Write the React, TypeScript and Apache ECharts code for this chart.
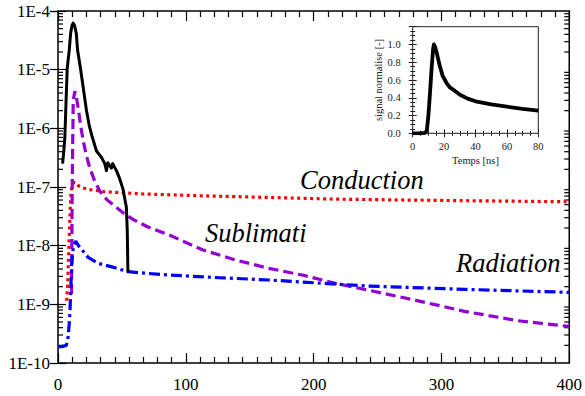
import React, { useEffect, useRef } from 'react';
import * as echarts from 'echarts';

// Main chart (log scale) — time [ns] vs value
const totalX = [3.6, 4.5, 5.4, 6.2, 7.2, 8.8, 9.9, 11, 11.9, 13, 14.3, 15.3, 17.6, 20, 22.3, 24.5, 26.5, 30.1, 34, 36.6, 37.9, 38.9, 41.8, 42.8, 45.7, 48.2, 50.8, 53.5, 54.2, 54.7];
const totalY = [2.5e-7, 4e-7, 7.2e-7, 2.5e-6, 1.05e-5, 2.16e-5, 4.2e-5, 5.7e-5, 6.2e-5, 5.6e-5, 4.2e-5, 2.16e-5, 1.05e-5, 4.5e-6, 2e-6, 1.1e-6, 7.5e-7, 4.1e-7, 3.2e-7, 2.5e-7, 1.9e-7, 2.6e-7, 2.1e-7, 2.5e-7, 1.9e-7, 1.4e-7, 9.3e-8, 4.5e-8, 1.8e-8, 3.5e-9];

const sublimX = [10.6, 11.1, 11.9, 13.2, 14.5, 15.8, 17.5, 19.7, 22, 24.9, 28.5, 32.7, 38.5, 45.7, 52, 58.6, 70, 87, 113, 139, 165, 191, 217, 243, 280, 318, 360, 400];
const sublimY = [1.5e-9, 1e-7, 2.95e-6, 4.3e-6, 3.3e-6, 2.2e-6, 1.2e-6, 6.2e-7, 3.6e-7, 2.1e-7, 1.3e-7, 8.5e-8, 6e-8, 4.5e-8, 3.5e-8, 2.8e-8, 2.1e-8, 1.52e-8, 8.5e-9, 5.7e-9, 4.1e-9, 3.16e-9, 2.28e-9, 1.74e-9, 1.17e-9, 7.6e-10, 5.25e-10, 4.2e-10];

const conductX = [6.8, 7.5, 8, 8.7, 9.3, 10, 11, 12, 13.2, 16, 20, 23.6, 36.6, 67.7, 110, 219, 300, 400];
const conductY = [1.15e-9, 2e-9, 4.3e-9, 1.2e-8, 3e-8, 7e-8, 1.05e-7, 1.17e-7, 1.2e-7, 1.05e-7, 9.6e-8, 9.1e-8, 8.3e-8, 7.6e-8, 7.1e-8, 6.2e-8, 5.9e-8, 5.6e-8];

const radiatX = [0, 3, 6.5, 7.5, 8, 8.7, 9.3, 10, 10.7, 11.9, 13.8, 16, 18.4, 23.6, 31.4, 43, 54.7, 63.8, 87, 125, 165, 219, 243, 318, 400];
const radiatY = [1.9e-10, 1.9e-10, 2.0e-10, 2.4e-10, 2.9e-10, 4.5e-10, 7e-10, 1.8e-9, 4.8e-9, 9.3e-9, 1.2e-8, 1.0e-8, 8.7e-9, 6.3e-9, 5e-9, 4.3e-9, 3.6e-9, 3.45e-9, 3.16e-9, 2.85e-9, 2.6e-9, 2.2e-9, 2.05e-9, 1.8e-9, 1.6e-9];

// Inset: normalised signal
const insetX = [0, 4, 8, 9, 10, 11, 12, 13, 13.5, 14.3, 15.3, 16.3, 17.3, 19, 21.6, 23.5, 25.9, 30.1, 35, 40, 50, 60, 70, 80];
const insetY = [0, 0, 0.005, 0.03, 0.2, 0.45, 0.72, 0.95, 1.0, 0.97, 0.906, 0.83, 0.755, 0.65, 0.566, 0.52, 0.49, 0.434, 0.39, 0.36, 0.325, 0.30, 0.275, 0.255];

// Log minor tick positions (decade mantissas)
const decadeExponents = [-10, -9, -8, -7, -6, -5];
const minorMantissas = [2, 3, 4, 5, 6, 7, 8, 9];

const annotations = [
  { text: 'Conduction', x: 300, y: 180 },
  { text: 'Sublimati', x: 205, y: 233 },
  { text: 'Radiation', x: 456, y: 263 },
];

const FONT = 'Liberation Serif';

const pairs = (xs: number[], ys: number[]) => xs.map((x, i) => [x, ys[i]]);

export default function App() {
  const ref = useRef<HTMLDivElement>(null);
  useEffect(() => {
    const chart = echarts.init(ref.current!, null, { renderer: 'svg' });
    const minorVals: number[][] = [];
    decadeExponents.forEach((e) => minorMantissas.forEach((m) => minorVals.push([0, m * Math.pow(10, e)])));

    const tickStyle = { color: '#000', width: 1.2 };
    const mainX = (pos: 'bottom' | 'top', labels: boolean) => ({
      type: 'value', gridIndex: 0, min: 0, max: 400, interval: 100, position: pos,
      axisLine: { show: false }, splitLine: { show: false },
      axisTick: { show: true, inside: true, length: 10, lineStyle: tickStyle },
      minorTick: { show: true, splitNumber: 9, length: 6, lineStyle: tickStyle },
      axisLabel: { show: labels, color: '#000', fontFamily: FONT, fontSize: 17, margin: 13 },
    });
    const mainY = (pos: 'left' | 'right', labels: boolean) => ({
      type: 'log', logBase: 10, gridIndex: 0, min: 1e-10, max: 1e-4, splitNumber: 6, position: pos,
      axisLine: { show: false }, splitLine: { show: false },
      axisTick: { show: true, inside: true, length: 8, lineStyle: tickStyle },
      minorTick: { show: false },
      axisLabel: {
        show: labels, color: '#000', fontFamily: FONT, fontSize: 17, margin: 8,
        formatter: (v: number) => '1E' + Math.round(Math.log10(v)),
      },
    });
    const insetTick = { color: '#222', width: 1 };
    const insetXAxis = (pos: 'bottom' | 'top', labels: boolean) => ({
      type: 'value', gridIndex: 1, min: 0, max: 80, interval: 20, position: pos,
      axisLine: { show: false }, splitLine: { show: false },
      axisTick: { show: true, inside: true, length: 4, lineStyle: insetTick },
      minorTick: { show: true, splitNumber: 4, length: 2.5, lineStyle: insetTick },
      axisLabel: { show: labels, color: '#222', fontFamily: FONT, fontSize: 10.5, margin: 8 },
      name: labels ? 'Temps [ns]' : '', nameLocation: 'middle', nameGap: 22,
      nameTextStyle: { color: '#222', fontFamily: FONT, fontSize: 10.5 },
    });
    const insetYAxis = (pos: 'left' | 'right', labels: boolean) => ({
      type: 'value', gridIndex: 1, min: 0, max: 1.2, interval: 0.2, position: pos,
      axisLine: { show: false }, splitLine: { show: false },
      axisTick: { show: true, inside: true, length: 4, lineStyle: insetTick },
      minorTick: { show: true, splitNumber: 4, length: 2.5, lineStyle: insetTick },
      axisLabel: {
        show: labels, color: '#222', fontFamily: FONT, fontSize: 10.5, margin: 12,
        formatter: (v: number) => (v > 1.1 ? '' : v.toFixed(1)),
      },
      name: labels ? 'signal normalise [-]' : '', nameLocation: 'middle', nameGap: 25, nameRotate: 90,
      nameTextStyle: { color: '#222', fontFamily: FONT, fontSize: 10.5 },
    });

    const option: any = {
      animation: false,
      backgroundColor: '#fff',
      textStyle: { fontFamily: FONT },
      grid: [
        { left: 58, top: 11, width: 514, height: 352, show: true, borderColor: '#000', borderWidth: 1.5, backgroundColor: 'transparent' },
        { left: 412.7, top: 26.7, width: 125.6, height: 106.6, show: true, borderColor: '#222', borderWidth: 1, backgroundColor: '#fff' },
      ],
      xAxis: [mainX('bottom', true), mainX('top', false), insetXAxis('bottom', true), insetXAxis('top', false)],
      yAxis: [mainY('left', true), mainY('right', false), insetYAxis('left', true), insetYAxis('right', false)],
      series: [
        {
          type: 'custom', xAxisIndex: 0, yAxisIndex: 0, silent: true, clip: false,
          data: minorVals, encode: { x: 0, y: 1 },
          renderItem: (params: any, api: any) => {
            const v = api.value(1);
            const l = api.coord([0, v]);
            const r = api.coord([400, v]);
            const st = { stroke: '#000', lineWidth: 1.2 };
            return {
              type: 'group',
              children: [
                { type: 'line', shape: { x1: l[0], y1: l[1], x2: l[0] + 5, y2: l[1] }, style: st },
                { type: 'line', shape: { x1: r[0] - 5, y1: r[1], x2: r[0], y2: r[1] }, style: st },
              ],
            };
          },
        },
        {
          name: 'Conduction', type: 'line', xAxisIndex: 0, yAxisIndex: 0, showSymbol: false,
          data: pairs(conductX, conductY),
          lineStyle: { color: '#ff0000', width: 3.2, type: [3, 3.5], cap: 'butt' },
        },
        {
          name: 'Sublimation', type: 'line', xAxisIndex: 0, yAxisIndex: 0, showSymbol: false,
          data: pairs(sublimX, sublimY),
          lineStyle: { color: '#9400d3', width: 3.2, type: [10, 5], cap: 'butt' },
        },
        {
          name: 'Radiation', type: 'line', xAxisIndex: 0, yAxisIndex: 0, showSymbol: false,
          data: pairs(radiatX, radiatY),
          lineStyle: { color: '#0000ff', width: 3.2, type: [11, 4, 3, 4], cap: 'butt' },
        },
        {
          name: 'Total', type: 'line', xAxisIndex: 0, yAxisIndex: 0, showSymbol: false,
          data: pairs(totalX, totalY),
          lineStyle: { color: '#000', width: 3, join: 'round' },
        },
        {
          name: 'Signal', type: 'line', xAxisIndex: 2, yAxisIndex: 2, showSymbol: false,
          data: pairs(insetX, insetY),
          lineStyle: { color: '#000', width: 3.8, join: 'round' },
        },
      ],
      graphic: annotations.map((a) => ({
        type: 'text', x: a.x, y: a.y, z: 10,
        style: {
          text: a.text, fill: '#000', fontFamily: FONT, fontStyle: 'italic', fontSize: 26.5,
          align: 'left', verticalAlign: 'middle',
        },
      })),
    };
    chart.setOption(option);
    return () => chart.dispose();
  }, []);
  return <div ref={ref} style={{ position: 'absolute', left: 0, top: 0, width: 585, height: 396 }} />;
}
